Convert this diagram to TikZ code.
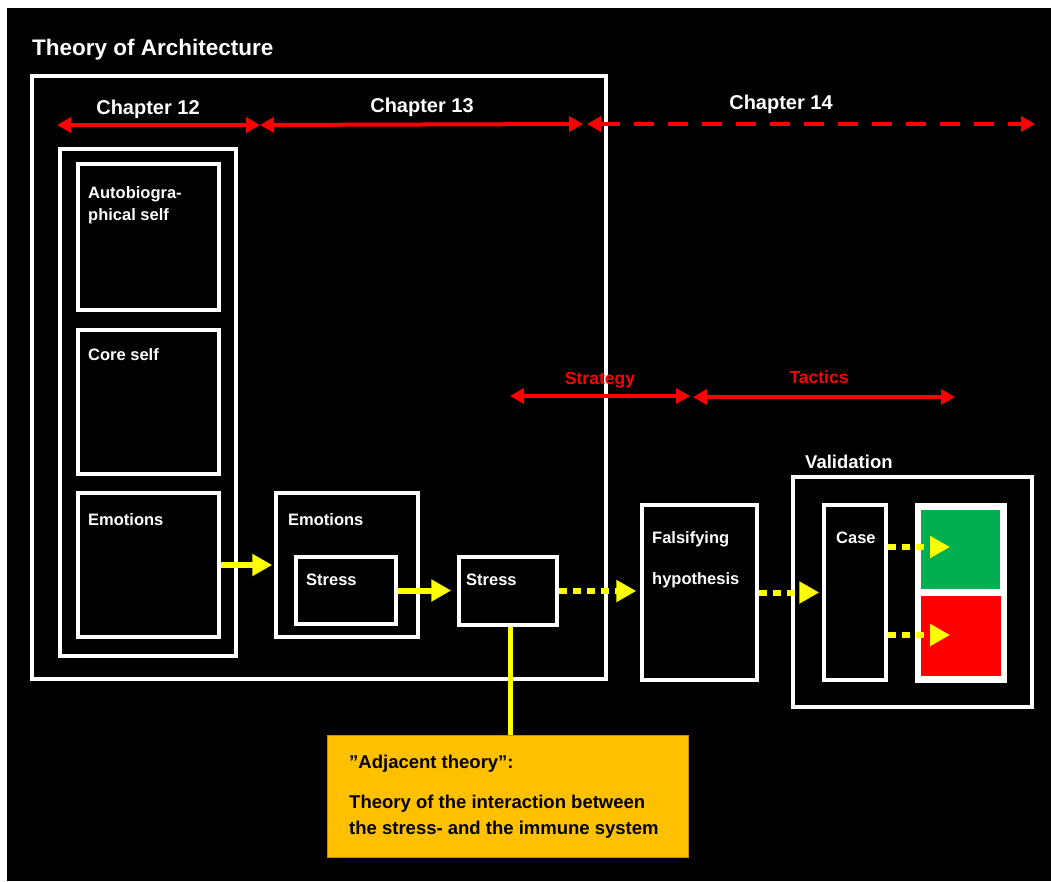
\documentclass[tikz,border=0pt]{standalone}
\usepackage{fontspec}
\setmainfont{Liberation Sans}
\usetikzlibrary{arrows.meta,calc}
\definecolor{ochre}{HTML}{FFC000}
\definecolor{okgreen}{HTML}{00B050}
\definecolor{signalred}{HTML}{FF0000}
\definecolor{flowyellow}{HTML}{FFFF00}
\tikzset{
  frame/.style={draw=white, line width=3.5pt, inner sep=0pt, fill=black},
  boxlabel/.style={text=white, font=\bfseries\fontsize{16.5}{20}\selectfont, anchor=base west, inner sep=0pt},
  chaplabel/.style={text=white, font=\bfseries\fontsize{20}{24}\selectfont, anchor=base, inner sep=0pt},
  redlabel/.style={text=signalred, font=\bfseries\fontsize{17.5}{20}\selectfont, anchor=base, inner sep=0pt},
  adjtext/.style={text=black, font=\bfseries\fontsize{18.5}{22}\selectfont, anchor=base west, inner sep=0pt},
  span/.style={draw=signalred, line width=4pt,
    {Triangle[length=14pt,width=15pt]}-{Triangle[length=14pt,width=15pt]}},
  flow/.style={draw=flowyellow, line width=6pt, -{Triangle[length=20pt,width=21pt]}},
  dotflow/.style={flow, dash pattern=on 8pt off 6pt},
}
\begin{document}
\begin{tikzpicture}[x=1pt,y=-1pt]
  % page and dark canvas
  \fill[white] (0,0) rectangle (1051,881);
  \fill[black] (7,8) rectangle (1051,881);
  \useasboundingbox (0,0) rectangle (1051,881);

  % title and theory frame
  \node[text=white, font=\bfseries\fontsize{22.5}{26}\selectfont, anchor=base west, inner sep=0pt] (title) at (32,55) {Theory of Architecture};
  \node[frame, fill=none, minimum width=574, minimum height=603] (theory) at (319,377.5) {};

  % chapter spans
  \coordinate (c12a) at (57,125);
  \coordinate (c12b) at (260,125);
  \coordinate (c13b) at (583,124);
  \coordinate (c14a) at (587,124);
  \coordinate (c14b) at (1035,124);
  \node[chaplabel] (ch12) at (148,114) {Chapter 12};
  \node[chaplabel] (ch13) at (422,112) {Chapter 13};
  \node[chaplabel] (ch14) at (781,109) {Chapter 14};
  \draw[span] (c12a) -- (c12b);
  \draw[span] (c12b) -- (c13b);
  \draw[span, dash pattern=on 20pt off 14pt] (c14a) -- (c14b);

  % the self column
  \node[frame, minimum width=176, minimum height=507] (column) at (148,402.5) {};
  \node[frame, minimum width=141, minimum height=146] (auto) at (148.5,237) {};
  \node[frame, minimum width=141, minimum height=144] (core) at (148.5,402) {};
  \node[frame, minimum width=141, minimum height=144] (emoA) at (148.5,565) {};
  \node[boxlabel] (autoL1) at (88,198) {Autobiogra-};
  \node[boxlabel] (autoL2) at (88,220) {phical self};
  \node[boxlabel] (coreL) at (88,360) {Core self};
  \node[boxlabel] (emoAL) at (88,525) {Emotions};

  % emotions and stress
  \node[frame, minimum width=142, minimum height=144] (emoB) at (347,565) {};
  \node[boxlabel] (emoBL) at (288,525) {Emotions};
  \node[frame, minimum width=100, minimum height=67] (stressA) at (346,590.5) {};
  \node[boxlabel] (stressAL) at (306,585) {Stress};
  \node[frame, minimum width=98, minimum height=68] (stressB) at (508,591) {};
  \node[boxlabel] (stressBL) at (466,585) {Stress};

  % strategy and tactics spans
  \coordinate (sa) at (510,396);
  \coordinate (sb) at (690,396);
  \coordinate (ta) at (693,397);
  \coordinate (tb) at (955,397);
  \node[redlabel] (strat) at (600,384) {Strategy};
  \node[redlabel] (tact) at (819,383) {Tactics};
  \draw[span] (sa) -- (sb);
  \draw[span] (ta) -- (tb);

  % hypothesis
  \node[frame, minimum width=115, minimum height=175] (hyp) at (699.5,592.5) {};
  \node[boxlabel] (hypL1) at (652,543) {Falsifying};
  \node[boxlabel] (hypL2) at (652,584) {hypothesis};

  % validation
  \node[text=white, font=\bfseries\fontsize{18.5}{22}\selectfont, anchor=base west, inner sep=0pt] (valL) at (805,468) {Validation};
  \node[frame, minimum width=239, minimum height=230] (valid) at (912.5,592) {};
  \node[frame, minimum width=62, minimum height=175] (case) at (855,592.5) {};
  \node[boxlabel] (caseL) at (836,543) {Case};
  \node[fill=white, inner sep=0pt, minimum width=92, minimum height=180] (outcome) at (961,593) {};
  \node[fill=okgreen, inner sep=0pt, minimum width=79, minimum height=79] (pass) at (960.5,549.5) {};
  \node[fill=signalred, inner sep=0pt, minimum width=80, minimum height=80] (fail) at (961,636) {};
  \coordinate (passtip) at (950,547);
  \coordinate (failtip) at (950,635);

  % adjacent theory
  \node[fill=ochre, draw=ochre!75!black, line width=1pt, inner sep=0pt, minimum width=361, minimum height=122] (adj) at (507.5,796) {};
  \node[adjtext] (adjL1) at (349,768) {”Adjacent theory”:};
  \node[adjtext] (adjL2) at (349,808) {Theory of the interaction between};
  \node[adjtext] (adjL3) at (349,834) {the stress- and the immune system};

  % flows
  \draw[flow, shorten >=2pt] (emoA.east) -- (emoB.west);
  \draw[flow, shorten >=6pt] (stressA.east) -- (stressA.east -| stressB.west);
  \draw[dotflow, shorten >=4pt] (stressB.east) -- (stressB.east -| hyp.west);
  \draw[dotflow, shorten >=3pt] (hyp.east) -- (hyp.east -| case.west);
  \draw[dotflow] (case.east |- passtip) -- (passtip);
  \draw[dotflow] (case.east |- failtip) -- (failtip);
  \draw[draw=flowyellow, line width=5pt] ([xshift=2pt]stressB.south) -- ([xshift=2pt]stressB.south |- adj.north);
\end{tikzpicture}
\end{document}
